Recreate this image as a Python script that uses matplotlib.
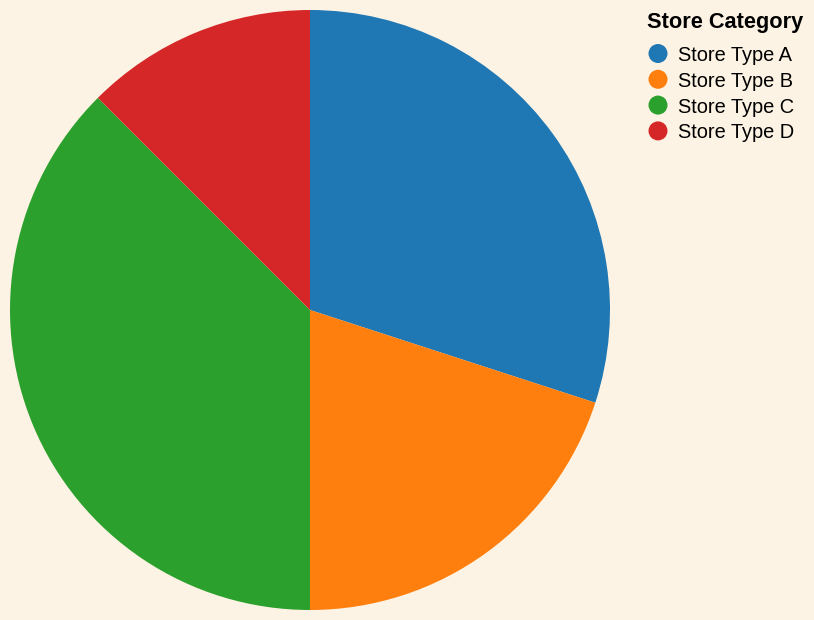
import matplotlib
matplotlib.use("Agg")
import matplotlib.pyplot as plt

categories = ["Store Type A", "Store Type B", "Store Type C", "Store Type D"]
values = [120, 80, 150, 50]
colors = ["#1f77b4", "#ff7f0e", "#2ca02c", "#d62728"]
legend_title = "Store Category"
bg = "#fdf3e4"

W, H = 814, 620
fig = plt.figure(figsize=(W / 100, H / 100), dpi=100, facecolor=bg)

# pie axes: center (310,310) px, radius 300
ax = fig.add_axes([10 / W, 10 / H, 600 / W, 600 / H])
ax.set_facecolor(bg)
ax.pie(values, colors=colors, startangle=90, counterclock=False, radius=1,
       wedgeprops=dict(linewidth=0, antialiased=True))
ax.set_xlim(-1, 1)
ax.set_ylim(-1, 1)
ax.set_aspect("equal")
ax.axis("off")

# legend overlay in pixel coords
lax = fig.add_axes([0, 0, 1, 1], facecolor="none")
lax.set_xlim(0, W)
lax.set_ylim(H, 0)
lax.axis("off")
px = 0.72  # pt per px
lax.text(647, 28, legend_title, fontsize=21.8 * px, fontweight="bold",
         family="Liberation Sans", ha="left", va="baseline", color="black")
for i, (cat, col) in enumerate(zip(categories, colors)):
    yb = 61 + i * 25.8
    lax.scatter([658], [yb - 7.5], s=(19 * px) ** 2, color=col, edgecolors="none")
    lax.text(678, yb, cat, fontsize=20 * px, family="Liberation Sans",
             ha="left", va="baseline", color="black")

fig.savefig("out.png", dpi=100, facecolor=bg)
